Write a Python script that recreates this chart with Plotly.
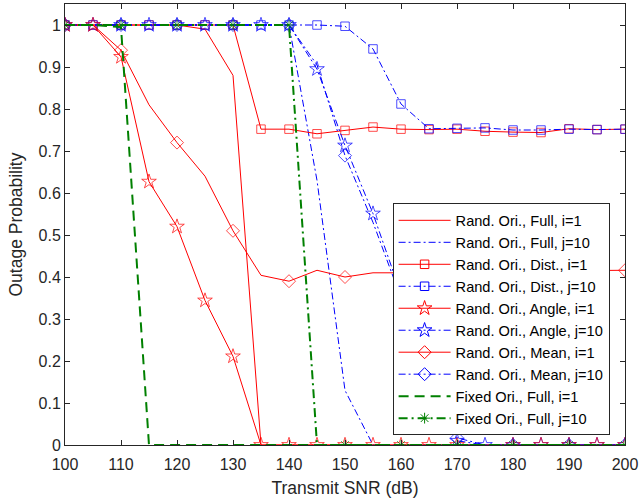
import plotly.graph_objects as go

snr = [100, 105, 110, 115, 120, 125, 130, 135, 140, 145, 150,
       155, 160, 165, 170, 175, 180, 185, 190, 195, 200]

full_i1 = [1, 1, 1, 1, 1, 0.99, 0.88, 0, 0, 0, 0, 0, 0, 0, 0, 0, 0, 0, 0, 0, 0]
full_j10 = [1, 1, 1, 1, 1, 1, 1, 1, 1, 0.63, 0.13, 0, 0, 0, 0, 0, 0, 0, 0, 0, 0]
dist_i1 = [1, 1, 1, 1, 1, 1, 1, 0.752, 0.752, 0.741, 0.749, 0.757, 0.752, 0.751,
           0.752, 0.747, 0.745, 0.744, 0.753, 0.751, 0.752]
dist_j10 = [1, 1, 1, 1, 1, 1, 1, 1, 1, 1, 0.997, 0.943, 0.812, 0.753, 0.754,
            0.755, 0.750, 0.750, 0.752, 0.751, 0.752]
angle_i1 = [1, 1, 0.924, 0.627, 0.52, 0.344, 0.211, 0, 0, 0, 0, 0, 0, 0, 0, 0, 0, 0, 0, 0, 0]
angle_j10 = [1, 1, 1, 1, 1, 1, 1, 1, 1, 0.895, 0.713, 0.551, 0.36, 0.18, 0.01,
             0, 0, 0, 0, 0, 0]
mean_i1 = [1, 1, 0.94, 0.81, 0.72, 0.64, 0.51, 0.404, 0.39, 0.416, 0.40, 0.41,
           0.41, 0.41, 0.415, 0.41, 0.41, 0.41, 0.415, 0.415, 0.416]
mean_j10 = [1, 1, 1, 1, 1, 1, 1, 1, 1, 0.905, 0.689, 0.53, 0.35, 0.17, 0.017,
            0, 0, 0, 0, 0, 0]
fixed_i1 = [1, 1, 0.995, 0, 0, 0, 0, 0, 0, 0, 0, 0, 0, 0, 0, 0, 0, 0, 0, 0, 0]
fixed_j10 = [1, 1, 1, 1, 1, 1, 1, 1, 1, 0, 0, 0, 0, 0, 0, 0, 0, 0, 0, 0, 0]

x_ticks = [100, 110, 120, 130, 140, 150, 160, 170, 180, 190, 200]
y_ticks = [0, 0.1, 0.2, 0.3, 0.4, 0.5, 0.6, 0.7, 0.8, 0.9, 1]
y_tick_text = ["0", "0.1", "0.2", "0.3", "0.4", "0.5", "0.6", "0.7", "0.8", "0.9", "1"]

RED = "#FF0000"
BLUE = "#0000FF"
GREEN = "#008000"
DASHDOT = "7px,3px,2px,3px"
GDASHDOT = "9px,4px,2px,4px"
GDASH = "10px,6px"

every = [True] * len(snr)
every10 = [i % 2 == 0 for i in range(len(snr))]
no175 = [s != 175 for s in snr]

# name, y, color, dash, width, symbol, msize, marker mask
series = [
    ("Rand. Ori., Full, i=1", full_i1, RED, "solid", 1, None, 0, None),
    ("Rand. Ori., Full, j=10", full_j10, BLUE, DASHDOT, 1, None, 0, None),
    ("Rand. Ori., Dist., i=1", dist_i1, RED, "solid", 1, "square-open", 8.5, every),
    ("Rand. Ori., Dist., j=10", dist_j10, BLUE, DASHDOT, 1, "square-open", 8.5, every),
    ("Rand. Ori., Angle, i=1", angle_i1, RED, "solid", 1, "star-open", 11, no175),
    ("Rand. Ori., Angle, j=10", angle_j10, BLUE, DASHDOT, 1, "star-open", 11, every),
    ("Rand. Ori., Mean, i=1", mean_i1, RED, "solid", 1, "diamond-open", 10, every10),
    ("Rand. Ori., Mean, j=10", mean_j10, BLUE, DASHDOT, 1, "diamond-open", 10, every10),
    ("Fixed Ori., Full, i=1", fixed_i1, GREEN, GDASH, 2, None, 0, None),
    ("Fixed Ori., Full, j=10", fixed_j10, GREEN, GDASHDOT, 2, "asterisk-open", 9, every10),
]

draw_order = [0, 1, 2, 3, 5, 4, 6, 7, 8, 9]

fig = go.Figure()
for k in draw_order:
    name, y, col, dash, w, sym, ms, mask = series[k]
    if sym is None:
        fig.add_trace(go.Scatter(x=snr, y=y, mode="lines", showlegend=False,
                                 line=dict(color=col, width=w, dash=dash),
                                 hoverinfo="skip"))
    else:
        sizes = [ms if m else 0 for m in mask]
        fig.add_trace(go.Scatter(x=snr, y=y, mode="lines+markers", showlegend=False,
                                 line=dict(color=col, width=w, dash=dash),
                                 marker=dict(symbol=sym, size=sizes, color=col,
                                             line=dict(color=col, width=1)),
                                 hoverinfo="skip"))

for name, y, col, dash, w, sym, ms, mask in series:
    if sym is None:
        fig.add_trace(go.Scatter(x=[None], y=[None], mode="lines", name=name,
                                 line=dict(color=col, width=w, dash=dash)))
    else:
        fig.add_trace(go.Scatter(x=[None], y=[None], mode="lines+markers", name=name,
                                 line=dict(color=col, width=w, dash=dash),
                                 marker=dict(symbol=sym, size=ms, color=col,
                                             line=dict(color=col, width=1))))

AX = "#262626"
FONT = "Liberation Sans, Arial, sans-serif"

fig.update_layout(
    width=641, height=499,
    margin=dict(l=65, r=14, t=3, b=54),
    paper_bgcolor="white", plot_bgcolor="white",
    font=dict(family=FONT, size=16, color=AX),
    showlegend=True,
    legend=dict(x=0.585, y=0.548, xanchor="left", yanchor="top",
                bgcolor="white", bordercolor=AX, borderwidth=1,
                font=dict(family=FONT, size=14.6, color="#000000"),
                itemwidth=52, tracegroupgap=0),
)
fig.update_xaxes(range=[100, 200], tickvals=x_ticks, ticks="inside", ticklen=5,
                 showline=True, mirror="ticks", linecolor=AX, tickcolor=AX,
                 linewidth=1, showgrid=False, zeroline=False,
                 ticklabelstandoff=5,
                 title=dict(text="Transmit SNR (dB)", font=dict(size=17.5), standoff=9),
                 tickfont=dict(size=16))
fig.update_yaxes(range=[0, 1.05], tickvals=y_ticks, ticktext=y_tick_text,
                 ticks="inside", ticklen=5,
                 showline=True, mirror="ticks", linecolor=AX, tickcolor=AX,
                 linewidth=1, showgrid=False, zeroline=False,
                 title=dict(text="Outage Probability", font=dict(size=17.5), standoff=11),
                 tickfont=dict(size=16))

fig.write_html("out.html", config={"displayModeBar": False},
               post_script="document.body.style.margin='0';document.body.style.padding='0';")
